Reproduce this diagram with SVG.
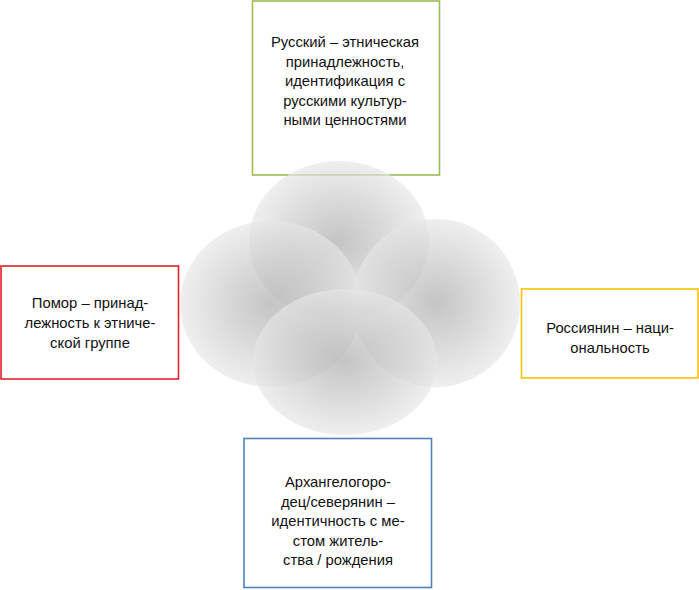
<svg xmlns="http://www.w3.org/2000/svg" width="699" height="590" viewBox="0 0 699 590">
<style>
.box{fill:#fff;stroke-width:1.6}
.t{font-family:"Liberation Sans",Arial,sans-serif;font-size:14.8px;fill:#111;text-anchor:middle}
.c{fill:url(#g);opacity:0.66}
</style>
<defs>
<radialGradient id="g" cx="0.5" cy="0.5" r="0.5">
<stop offset="0" stop-color="#a6a6a6"/>
<stop offset="0.5" stop-color="#c6c6c6"/>
<stop offset="1" stop-color="#e6e6e6"/>
</radialGradient>
</defs>
<rect width="699" height="590" fill="#fff"/>
<g id="russkiy">
<rect class="box" x="252.5" y="1" width="187" height="174" stroke="#9bbb59"/>
<text class="t"><tspan x="345" y="47">Русский – этническая</tspan><tspan x="345" y="66.5">принадлежность,</tspan><tspan x="345" y="86">идентификация с</tspan><tspan x="345" y="105.5">русскими культур-</tspan><tspan x="345" y="125">ными ценностями</tspan></text>
</g>
<g id="pomor">
<rect class="box" x="1" y="266" width="177.5" height="113" stroke="#e3202a"/>
<text class="t"><tspan x="90" y="308">Помор – принад-</tspan><tspan x="90" y="328">лежность к этниче-</tspan><tspan x="90" y="348">ской группе</tspan></text>
</g>
<g id="rossiyanin">
<rect class="box" x="521.5" y="289" width="176.5" height="89" stroke="#ffc000"/>
<text class="t"><tspan x="610" y="333">Россиянин – наци-</tspan><tspan x="610" y="352.5">ональность</tspan></text>
</g>
<g id="arkhangelogorodets">
<rect class="box" x="244" y="438.5" width="187.5" height="149" stroke="#4f81bd"/>
<text class="t"><tspan x="338" y="487">Архангелогоро-</tspan><tspan x="338" y="506.5">дец/северянин –</tspan><tspan x="338" y="526">идентичность с ме-</tspan><tspan x="338" y="545.5">стом житель-</tspan><tspan x="338" y="565">ства / рождения</tspan></text>
</g>
<g id="circles">
<ellipse class="c" cx="339" cy="241" rx="90" ry="80"/>
<ellipse class="c" cx="271" cy="304" rx="91" ry="83"/>
<ellipse class="c" cx="436" cy="303" rx="84" ry="84"/>
<ellipse class="c" cx="345" cy="362" rx="92" ry="73"/>
</g>
<g id="connectors"/>
</svg>
